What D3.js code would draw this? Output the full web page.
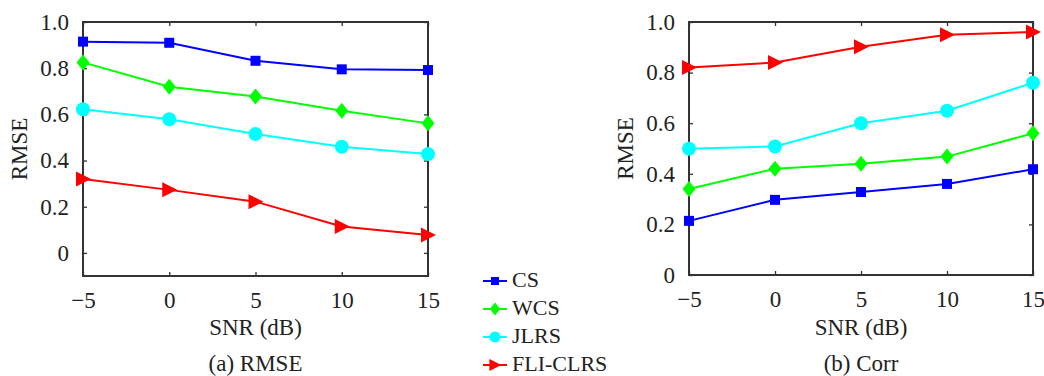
<!DOCTYPE html>
<html>
<head>
<meta charset="utf-8">
<script src="https://cdn.jsdelivr.net/npm/d3@7"></script>
<style>
  body { margin: 0; background: #fff; }
  svg text { font-family: "Liberation Serif", "DejaVu Serif", serif; fill: #222; }
</style>
</head>
<body>
<div id="chart"></div>
<script>
// 資料
const snr = [-5, 0, 5, 10, 15];
const methods = ["CS", "WCS", "JLRS", "FLI-CLRS"];
const colors = ["#0000ff", "#00ff00", "#00ffff", "#ff0000"];
const symbols = ["square", "diamond", "circle", "triangle"];

const rmseCS   = [0.915, 0.91, 0.832, 0.795, 0.792];
const rmseWCS  = [0.825, 0.72, 0.677, 0.616, 0.561];
const rmseJLRS = [0.622, 0.579, 0.515, 0.46, 0.428];
const rmseFLI  = [0.32, 0.273, 0.222, 0.114, 0.078];

const corrCS   = [0.214, 0.297, 0.328, 0.36, 0.418];
const corrWCS  = [0.34, 0.42, 0.44, 0.468, 0.56];
const corrJLRS = [0.499, 0.508, 0.6, 0.649, 0.76];
const corrFLI  = [0.82, 0.84, 0.902, 0.95, 0.96];

const xTicks = [-5, 0, 5, 10, 15];
const yTicks = [0, 0.2, 0.4, 0.6, 0.8, 1.0];

const W = 1044, H = 376;
const FONT = "'Liberation Serif', 'DejaVu Serif', serif";
const FS = 23;
const svg = d3.select("#chart").append("svg")
    .attr("width", W).attr("height", H);

// 標記形狀
function marker(g, type, color, s = 1) {
    if (type === "square") {
        g.append("rect").attr("x", -5 * s).attr("y", -5 * s).attr("width", 10 * s).attr("height", 10 * s).attr("fill", color);
    } else if (type === "diamond") {
        g.append("path").attr("d", `M0,${-8 * s}L${6.5 * s},0L0,${8 * s}L${-6.5 * s},0Z`).attr("fill", color);
    } else if (type === "circle") {
        g.append("circle").attr("r", 7 * s).attr("fill", color);
    } else {
        g.append("path").attr("d", `M${8 * s},0L${-7 * s},${-7.5 * s}L${-7 * s},${7.5 * s}Z`).attr("fill", color);
    }
}

const fmtX = d => d < 0 ? "\u2212" + (-d) : String(d);
const fmtY = d => d === 0 ? "0" : d3.format(".1f")(d);

function panel(opts) {
    const { left, right, top, bottom, yDomain, series, caption } = opts;
    const x = d3.scaleLinear().domain([-5, 15]).range([left, right]);
    const y = d3.scaleLinear().domain(yDomain).range([bottom, top]);
    const g = svg.append("g");

    // 刻度（向內）
    const tick = 4;
    g.append("g").attr("transform", `translate(0,${bottom})`)
        .call(d3.axisBottom(x).tickValues(xTicks).tickSize(-tick).tickPadding(16).tickFormat(fmtX));
    g.append("g").attr("transform", `translate(0,${top})`)
        .call(d3.axisTop(x).tickValues(xTicks).tickSize(-tick).tickFormat(""));
    g.append("g").attr("transform", `translate(${left},0)`)
        .call(d3.axisLeft(y).tickValues(yTicks).tickSize(-tick).tickPadding(14).tickFormat(fmtY));
    g.append("g").attr("transform", `translate(${right},0)`)
        .call(d3.axisRight(y).tickValues(yTicks).tickSize(-tick).tickFormat(""));
    g.selectAll(".domain").remove();
    g.selectAll("g").attr("font-family", FONT);
    g.selectAll(".tick line").attr("stroke", "#333").attr("stroke-width", 1.3);
    g.selectAll(".tick text").attr("font-size", FS).attr("fill", "#222");

    g.append("rect").attr("x", left).attr("y", top)
        .attr("width", right - left).attr("height", bottom - top)
        .attr("fill", "none").attr("stroke", "#333").attr("stroke-width", 2);

    const line = d3.line().x((d, i) => x(snr[i])).y(d => y(d));
    series.forEach((vals, k) => {
        g.append("path").attr("d", line(vals)).attr("fill", "none")
            .attr("stroke", colors[k]).attr("stroke-width", 2);
        vals.forEach((v, i) => {
            marker(g.append("g").attr("transform", `translate(${x(snr[i])},${y(v)})`), symbols[k], colors[k]);
        });
    });

    const cx = (left + right) / 2;
    g.append("text").attr("x", cx).attr("y", 335).attr("text-anchor", "middle")
        .attr("font-size", FS).text("SNR (dB)");
    g.append("text").attr("x", cx).attr("y", 370.5).attr("text-anchor", "middle")
        .attr("font-size", FS).text(caption);
    g.append("text").attr("transform", `translate(${left - 56},${(top + bottom) / 2}) rotate(-90)`)
        .attr("text-anchor", "middle").attr("font-size", FS).text("RMSE");
}

panel({ left: 83, right: 428, top: 22, bottom: 276, yDomain: [-0.1, 1.0],
    series: [rmseCS, rmseWCS, rmseJLRS, rmseFLI], caption: "(a) RMSE" });
panel({ left: 689, right: 1033, top: 22, bottom: 275, yDomain: [0, 1.0],
    series: [corrCS, corrWCS, corrJLRS, corrFLI], caption: "(b) Corr" });

// 圖例
const legend = svg.append("g").attr("font-family", FONT);
methods.forEach((m, k) => {
    const ly = 281 + k * 28;
    const row = legend.append("g").attr("transform", `translate(483,${ly})`);
    row.append("line").attr("x1", 0).attr("x2", 24).attr("stroke", colors[k]).attr("stroke-width", 2);
    marker(row.append("g").attr("transform", "translate(12,0)"), symbols[k], colors[k], 0.8);
    row.append("text").attr("x", 29).attr("y", 6).attr("font-size", 22).text(m);
});
</script>
</body>
</html>
